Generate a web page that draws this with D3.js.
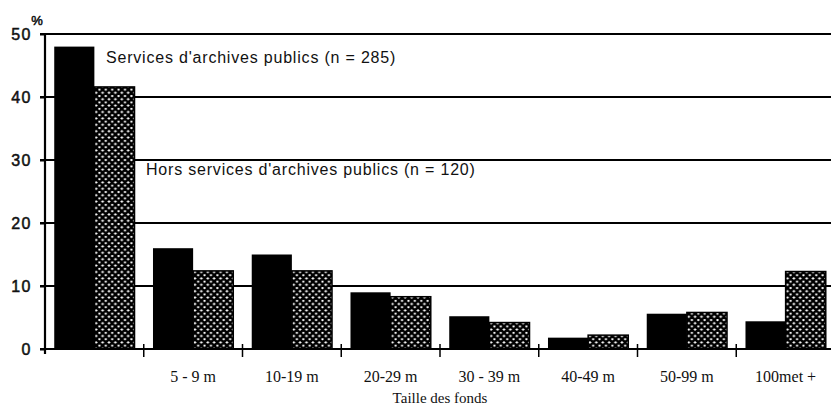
<!DOCTYPE html>
<html>
<head>
<meta charset="utf-8">
<script src="https://cdn.jsdelivr.net/npm/d3@7"></script>
<style>
  body { margin: 0; background: #fff; }
  svg { display: block; }
  .ylab { font-family: "Liberation Sans", Arial, sans-serif; font-size: 16px; letter-spacing: 1.5px; fill: #111; stroke: #111; stroke-width: 0.5px; }
  .legend { font-family: "Liberation Sans", Arial, sans-serif; font-size: 16px; letter-spacing: 0.8px; fill: #111; }
  .xlab { font-family: "Liberation Serif", "Times New Roman", serif; font-size: 16px; fill: #111; }
</style>
</head>
<body>
<div id="chart"></div>
<script>
// data
var categories = ['0-4 m', '5 - 9 m', '10-19 m', '20-29 m', '30 - 39 m', '40-49 m', '50-99 m', '100met +']
var categoryLabels = ['', '5 - 9 m', '10-19 m', '20-29 m', '30 - 39 m', '40-49 m', '50-99 m', '100met +']
var series = ['public', 'hors']
var publicValues = [48, 16, 15, 9, 5.2, 1.8, 5.6, 4.4]
var horsValues = [41.6, 12.4, 12.4, 8.3, 4.2, 2.2, 5.8, 12.3]
var yTicks = [0, 10, 20, 30, 40, 50]
var legendLabels = ["Services d'archives publics (n = 285)", "Hors services d'archives publics (n = 120)"]

var W = 831, H = 405
var margin = {top: 34, left: 45, bottom: 56}
var plotRight = 835

var x0 = d3.scaleBand().domain(categories).range([margin.left, plotRight]).paddingInner(0).paddingOuter(0)
var x1 = d3.scaleBand().domain(series).range([0, x0.bandwidth()]).paddingInner(0).paddingOuter(0.23)
var y = d3.scaleLinear().domain([0, 50]).range([H - margin.bottom, margin.top])

var svg = d3.select('#chart').append('svg')
  .attr('width', W)
  .attr('height', H)

// cross-hatch fill for the second series
var p = 6.4, h = p / 2
var defs = svg.append('defs')
var pat = defs.append('pattern')
  .attr('id', 'hatch')
  .attr('patternUnits', 'userSpaceOnUse')
  .attr('width', p)
  .attr('height', p)
pat.append('rect').attr('width', p).attr('height', p).attr('fill', '#fff')
pat.append('path')
  .attr('d', `M0,0L${p},${p}M${p},0L0,${p}M${-h},${h}L${h},${p + h}M${h},${-h}L${p + h},${h}M${h},${p + h}L${p + h},${h}M${-h},${h}L${h},${-h}`)
  .attr('stroke', '#000')
  .attr('stroke-width', 2.5)

// gridlines (one per y tick, full width)
svg.append('g').selectAll('line').data(yTicks.filter(d => d > 0))
  .enter().append('line')
    .attr('x1', margin.left - 5)
    .attr('x2', W)
    .attr('y1', d => y(d))
    .attr('y2', d => y(d))
    .attr('stroke', '#000')
    .attr('stroke-width', 2)

// bars
var data = categories.map((c, i) => ({cat: c, vals: [
  {key: 'public', v: publicValues[i]},
  {key: 'hors', v: horsValues[i]}
]}))

var groups = svg.append('g').selectAll('g').data(data)
  .enter().append('g')
    .attr('transform', d => `translate(${x0(d.cat)},0)`)

groups.selectAll('rect').data(d => d.vals)
  .enter().append('rect')
    .attr('x', d => x1(d.key))
    .attr('y', d => y(d.v))
    .attr('width', x1.bandwidth())
    .attr('height', d => y(0) - y(d.v))
    .attr('fill', d => d.key == 'public' ? '#000' : 'url(#hatch)')
    .attr('stroke', '#000')
    .attr('stroke-width', d => d.key == 'public' ? 0 : 1.5)

// x axis line + ticks at group boundaries
svg.append('line')
  .attr('x1', margin.left - 5).attr('x2', W)
  .attr('y1', y(0)).attr('y2', y(0))
  .attr('stroke', '#000').attr('stroke-width', 2)

svg.append('g').selectAll('line').data(categories.slice(1))
  .enter().append('line')
    .attr('x1', d => x0(d)).attr('x2', d => x0(d))
    .attr('y1', y(0) - 5).attr('y2', y(0) + 8)
    .attr('stroke', '#000').attr('stroke-width', 1.5)

// y axis
var yAxis = d3.axisLeft(y).tickValues(yTicks).tickSize(5).tickPadding(8)
var ya = svg.append('g')
  .attr('transform', `translate(${margin.left},0)`)
  .call(yAxis)
ya.select('.domain').attr('stroke-width', 2.2).attr('d', `M0,${y(50)}V${y(0) + 5}`)
ya.selectAll('.tick line').attr('stroke-width', 2)
ya.selectAll('.tick text').attr('class', 'ylab').attr('font-size', null).attr('font-family', null)

svg.append('text')
  .attr('class', 'ylab')
  .attr('x', 37).attr('y', 25)
  .attr('text-anchor', 'middle')
  .style('font-size', '13px')
  .style('letter-spacing', '0px')
  .text('%')

// in-plot labels
svg.append('text').attr('class', 'legend')
  .attr('x', 106).attr('y', 63)
  .text(legendLabels[0])
svg.append('text').attr('class', 'legend')
  .attr('x', 146).attr('y', 175)
  .text(legendLabels[1])

// category labels
svg.append('g').selectAll('text').data(categories)
  .enter().append('text')
    .attr('class', 'xlab')
    .attr('x', (d, i) => x0(d) + x0.bandwidth() / 2)
    .attr('y', 382)
    .attr('text-anchor', 'middle')
    .text((d, i) => categoryLabels[i])

svg.append('text')
  .attr('class', 'xlab')
  .attr('x', 440).attr('y', 403)
  .attr('text-anchor', 'middle')
  .style('font-size', '15px')
  .text('Taille des fonds')
</script>
</body>
</html>
